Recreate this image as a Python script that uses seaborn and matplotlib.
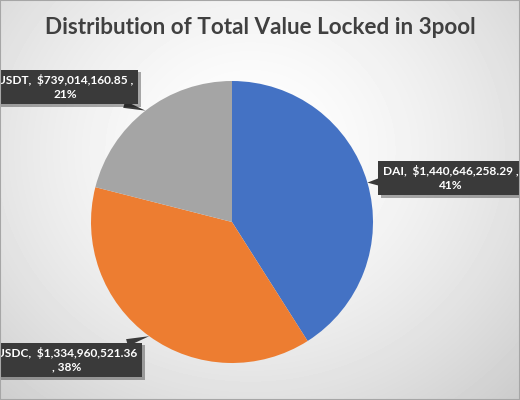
import numpy as np
import seaborn as sns
import matplotlib.pyplot as plt
import matplotlib.patheffects as pe
from matplotlib.patches import Rectangle

tokens = ["DAI", "USDC", "USDT"]
tvl = [1440646258.29, 1334960521.36, 739014160.85]
label_pos = [(451, 222), (67, 40), (65, 313)]  # figure pixels

sns.set_theme(style="white")
plt.rcParams["font.family"] = ["Lato", "DejaVu Sans"]
colors = ["#4472C4", "#ED7D31", "#A5A5A5"]

fig = plt.figure(figsize=(5.2, 4), dpi=100)

# soft radial background
bg = fig.add_axes([0, 0, 1, 1])
yy, xx = np.mgrid[0:400, 0:520]
r = np.sqrt(((xx - 250) / 330) ** 2 + ((yy - 150) / 300) ** 2)
shade = 1 - 0.16 * np.clip(r, 0, 1.3) ** 1.6
bg.imshow(shade, cmap="gray", vmin=0, vmax=1, aspect="auto", extent=[0, 520, 400, 0])
bg.set_axis_off()
fig.patches.append(Rectangle((0, 0), 1, 1, transform=fig.transFigure, fill=False,
                             ec="#a6a6a6", lw=1.5))

ax = fig.add_axes([91 / 520, 37 / 400, 282 / 520, 282 / 400])
wedges, _ = ax.pie(tvl, colors=colors, startangle=90, counterclock=False,
                   wedgeprops=dict(linewidth=0))
ax.set_xlim(-1, 1)
ax.set_ylim(-1, 1)

total = sum(tvl)
for w, name, v, pos in zip(wedges, tokens, tvl, label_pos):
    pct = v / total * 100
    if name == "USDC":
        txt = f"{name},  ${v:,.2f}\n, {pct:.0f}%"
    else:
        txt = f"{name},  ${v:,.2f} ,\n{pct:.0f}%"
    mid = np.deg2rad((w.theta1 + w.theta2) / 2)
    tip = (np.cos(mid), np.sin(mid))
    t = ax.annotate(txt, xy=tip, xycoords="data", xytext=pos, textcoords="figure pixels",
                    ha="center", va="center", color="white", fontsize=8.6, fontweight="bold",
                    linespacing=1.25, annotation_clip=False,
                    bbox=dict(boxstyle="square,pad=0.4", fc="#3a3a3a", ec="none"),
                    arrowprops=dict(arrowstyle="wedge,tail_width=0.6", fc="#3a3a3a",
                                    ec="none", shrinkA=0, shrinkB=0))
    t.get_bbox_patch().set_path_effects([pe.SimplePatchShadow(offset=(2, -2), alpha=0.35),
                                         pe.Normal()])

fig.text(0.5, 373 / 400, "Distribution of Total Value Locked in 3pool", ha="center",
         va="center", fontsize=16.2, fontweight="bold", color="#404040")

fig.savefig("out.png", dpi=100)
